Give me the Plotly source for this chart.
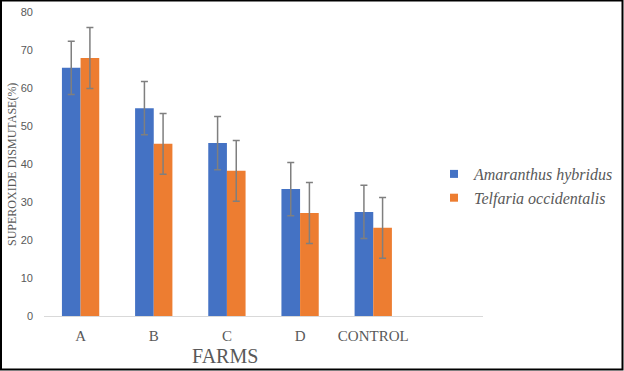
import plotly.graph_objects as go

categories = ["A", "B", "C", "D", "CONTROL", " "]
amaranthus = [65.3, 54.7, 45.5, 33.4, 27.4, None]
telfaria = [67.9, 45.3, 38.2, 27.1, 23.2, None]
amaranthus_err = [7, 7, 7, 7, 7, None]
telfaria_err = [8, 8, 8, 8, 8, None]
y_ticks = [0, 10, 20, 30, 40, 50, 60, 70, 80]
series_names = ["Amaranthus hybridus", "Telfaria occidentalis"]
series_colors = ["#4472c4", "#ed7d31"]

W, H = 624, 371
L, R, T, B = 44, 141, 12, 55
pw, ph = W - L - R, H - T - B


def px_x(p):
    return (p - L) / pw


def px_y(p):
    return (H - B - p) / ph


fig = go.Figure()
for vals, errs, name, col in [
    (amaranthus, amaranthus_err, series_names[0], series_colors[0]),
    (telfaria, telfaria_err, series_names[1], series_colors[1]),
]:
    fig.add_trace(go.Bar(
        x=categories, y=vals, name=name, showlegend=False, hoverinfo="skip",
        marker=dict(color=col, line=dict(width=0)),
        error_y=dict(type="data", array=errs, color="#7f7f7f", thickness=1.5, width=3.5),
    ))

# legend entries (small square keys like the original)
for name, col in zip(series_names, series_colors):
    fig.add_trace(go.Scatter(
        x=[categories[0]], y=[None], mode="markers", name="<i>" + name + "</i>",
        marker=dict(symbol="square", size=8, color=col), hoverinfo="skip",
    ))

fig.update_layout(
    width=W, height=H,
    margin=dict(l=L, r=R, t=T, b=B, pad=0, autoexpand=False),
    paper_bgcolor="white", plot_bgcolor="white",
    barmode="group", bargap=0.49, bargroupgap=0,
    showlegend=True, hovermode=False,
    legend=dict(
        x=px_x(434), y=px_y(157), xanchor="left", yanchor="top",
        font=dict(family="Liberation Serif", size=16, color="#595959"),
        itemwidth=30, tracegroupgap=2, bgcolor="rgba(0,0,0,0)",
    ),
    xaxis=dict(
        showline=True, linecolor="#d9d9d9", linewidth=1,
        showgrid=False, ticks="", zeroline=False, automargin=False,
        tickfont=dict(family="Liberation Serif", size=15, color="#595959"),
        ticklabelstandoff=6,
    ),
    yaxis=dict(
        range=[0, 80], tickvals=y_ticks, showgrid=False, zeroline=False,
        showline=False, ticks="", automargin=False,
        tickfont=dict(family="Liberation Sans", size=11, color="#595959"),
        ticklabelstandoff=10,
    ),
    annotations=[
        dict(
            text="FARMS", xref="paper", yref="paper",
            x=px_x(225), y=px_y(356), xanchor="center", yanchor="middle",
            showarrow=False, font=dict(family="Liberation Serif", size=20, color="#595959"),
        ),
        dict(
            text="SUPEROXIDE DISMUTASE(%)", xref="paper", yref="paper",
            x=px_x(12), y=px_y(165), xanchor="center", yanchor="middle", textangle=-90,
            showarrow=False, font=dict(family="Liberation Serif", size=12, color="#595959"),
        ),
    ],
    shapes=[dict(
        type="rect", xref="paper", yref="paper",
        x0=px_x(1), x1=px_x(622.5), y0=px_y(369.5), y1=px_y(0.5),
        line=dict(color="black", width=2), layer="above",
    )],
)

fig.write_html(
    "out.html",
    config={"displayModeBar": False, "staticPlot": True},
    post_script="document.body.style.margin='0';document.body.style.overflow='hidden';",
)
